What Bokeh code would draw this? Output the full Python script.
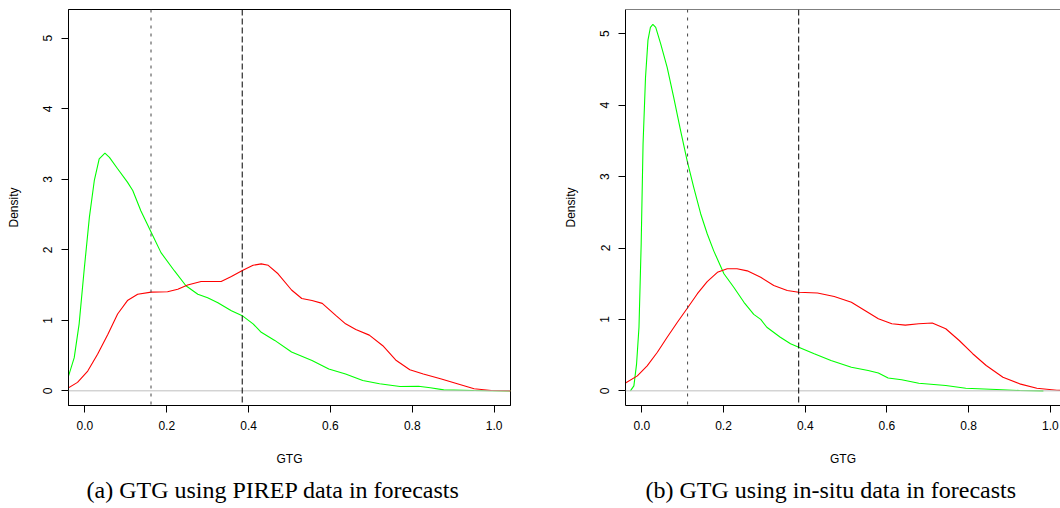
from bokeh.plotting import figure
from bokeh.layouts import row
from bokeh.models import Range1d, FixedTicker, NumeralTickFormatter, Span, Title
from bokeh.embed import file_html
from bokeh.resources import INLINE

# ---- data ----
a_green_x = [-0.041, -0.026, -0.014, -0.002, 0.011, 0.023, 0.035, 0.049, 0.06, 0.08, 0.104, 0.117,
             0.137, 0.162, 0.186, 0.219, 0.247, 0.276, 0.3, 0.325, 0.358, 0.386, 0.411, 0.431,
             0.464, 0.505, 0.555, 0.596, 0.637, 0.679, 0.72, 0.77, 0.815, 0.844, 0.877, 0.95, 1.04]
a_green_y = [0.19, 0.47, 0.95, 1.70, 2.46, 2.98, 3.29, 3.37, 3.31, 3.15, 2.96, 2.84,
             2.55, 2.25, 1.96, 1.70, 1.49, 1.37, 1.32, 1.25, 1.135, 1.06, 0.95, 0.83,
             0.715, 0.55, 0.43, 0.31, 0.24, 0.147, 0.10, 0.062, 0.066, 0.043, 0.014, 0.005, 0.0]
a_red_x = [-0.041, -0.018, 0.007, 0.031, 0.056, 0.08, 0.104, 0.129, 0.162, 0.202, 0.227, 0.251,
           0.284, 0.309, 0.333, 0.358, 0.386, 0.411, 0.431, 0.448, 0.472, 0.505, 0.53, 0.555,
           0.58, 0.613, 0.637, 0.662, 0.695, 0.728, 0.761, 0.794, 0.827, 0.869, 0.91, 0.951,
           0.993, 1.04]
a_red_y = [0.04, 0.12, 0.28, 0.52, 0.80, 1.09, 1.28, 1.37, 1.40, 1.405, 1.44, 1.50,
           1.55, 1.55, 1.55, 1.62, 1.71, 1.78, 1.80, 1.78, 1.66, 1.43, 1.31, 1.28,
           1.24, 1.07, 0.95, 0.87, 0.79, 0.64, 0.43, 0.30, 0.24, 0.17, 0.10, 0.03,
           0.005, 0.0]

b_green_x = [-0.028, -0.0195, -0.013, -0.007, -0.0016, 0.003, 0.009, 0.015, 0.021, 0.027, 0.034,
             0.046, 0.062, 0.078, 0.095, 0.111, 0.127, 0.144, 0.16, 0.176, 0.201, 0.225, 0.25,
             0.274, 0.291, 0.306, 0.339, 0.364, 0.384, 0.422, 0.463, 0.513, 0.554, 0.579, 0.603,
             0.636, 0.678, 0.744, 0.793, 0.868, 0.925, 0.983]
b_green_y = [0.0, 0.07, 0.37, 0.89, 2.06, 3.46, 4.39, 4.91, 5.09, 5.13, 5.09,
             4.86, 4.53, 4.11, 3.64, 3.22, 2.85, 2.48, 2.20, 1.96, 1.64, 1.45, 1.24,
             1.07, 1.0, 0.89, 0.75, 0.66, 0.61, 0.52, 0.425, 0.33, 0.285, 0.25, 0.18,
             0.155, 0.107, 0.075, 0.037, 0.019, 0.005, 0.0]
b_red_x = [-0.04, -0.011, 0.013, 0.038, 0.062, 0.087, 0.113, 0.136, 0.16, 0.185, 0.209, 0.233,
           0.258, 0.291, 0.323, 0.356, 0.384, 0.43, 0.471, 0.513, 0.546, 0.579, 0.612, 0.645,
           0.678, 0.711, 0.744, 0.777, 0.81, 0.843, 0.884, 0.925, 0.967, 1.016, 1.04]
b_red_y = [0.11, 0.21, 0.35, 0.54, 0.75, 0.96, 1.17, 1.36, 1.53, 1.66, 1.71, 1.71,
           1.68, 1.59, 1.475, 1.405, 1.38, 1.37, 1.32, 1.24, 1.125, 1.01, 0.94, 0.92,
           0.94, 0.95, 0.87, 0.705, 0.52, 0.355, 0.19, 0.098, 0.037, 0.009, 0.004]

a_vlines = [0.1616, 0.3845]
b_vlines = [0.112, 0.384]
x_ticks = [0.0, 0.2, 0.4, 0.6, 0.8, 1.0]
y_ticks = [0, 1, 2, 3, 4, 5]
captions = ["(a) GTG using PIREP data in forecasts", "(b) GTG using in-situ data in forecasts"]

SANS = "Liberation Sans"
SERIF = "Liberation Serif"


def make_panel(gx, gy, rx, ry, vlines, x_end, y_range, caption, border_left, frame_w,
               border_right, cap_offset, right_open):
    p = figure(width=border_left + frame_w + border_right, height=508,
               x_range=Range1d(-0.04, x_end), y_range=Range1d(*y_range),
               output_backend="svg", toolbar_location=None,
               min_border_left=border_left, min_border_right=border_right,
               min_border_top=9, min_border_bottom=103)
    p.background_fill_color = "white"
    p.border_fill_color = "white"
    p.grid.visible = False
    if right_open:
        p.outline_line_color = None
        p.add_layout(Span(location=y_range[1], dimension="width", line_color="black", line_width=1))
    else:
        p.outline_line_color = "black"
        p.outline_line_alpha = 1.0
        p.outline_line_width = 1

    for ax in (p.xaxis[0], p.yaxis[0]):
        ax.axis_line_color = "black"
        ax.major_tick_line_color = "black"
        ax.major_tick_out = 7
        ax.major_tick_in = 0
        ax.minor_tick_line_color = None
        ax.major_label_text_font = SANS
        ax.major_label_text_font_size = "12px"
        ax.major_label_text_color = "black"
        ax.axis_label_text_font = SANS
        ax.axis_label_text_font_size = "12px"
        ax.axis_label_text_font_style = "normal"
        ax.axis_label_text_color = "black"

    p.xaxis.ticker = FixedTicker(ticks=x_ticks)
    p.xaxis.formatter = NumeralTickFormatter(format="0.0")
    p.xaxis.axis_label = "GTG"
    p.xaxis.major_label_standoff = 8
    p.xaxis.axis_label_standoff = 19

    p.yaxis.ticker = FixedTicker(ticks=y_ticks)
    p.yaxis.major_label_orientation = "vertical"
    p.yaxis.axis_label = "Density"
    p.yaxis.major_label_standoff = 9
    p.yaxis.axis_label_standoff = 20

    p.add_layout(Span(location=0, dimension="width", line_color="#bebebe", line_width=1))
    p.line(gx, gy, line_color="#00ff00", line_width=1.1)
    p.line(rx, ry, line_color="#ff0000", line_width=1.1)
    p.add_layout(Span(location=vlines[0], dimension="height", line_color="#444444",
                      line_width=1, line_dash="3 5"))
    p.add_layout(Span(location=vlines[1], dimension="height", line_color="black",
                      line_width=1, line_dash="6 3"))

    p.add_layout(Title(text=caption, align="left", offset=cap_offset, text_font=SERIF,
                       text_font_size="24px", text_font_style="normal", text_color="black",
                       standoff=12), "below")
    return p


p1 = make_panel(a_green_x, a_green_y, a_red_x, a_red_y, a_vlines, 1.04, (-0.208, 5.408),
                captions[0], 68, 442, 20, 18, False)
p2 = make_panel(b_green_x, b_green_y, b_red_x, b_red_y, b_vlines, 1.0249, (-0.205, 5.339),
                captions[1], 95, 435, 0, 20, True)

layout = row(p1, p2)
open("out.html", "w").write(file_html(layout, INLINE))
